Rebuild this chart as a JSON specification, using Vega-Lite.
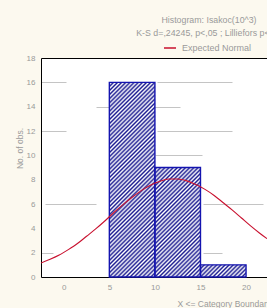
{"$schema":"https://vega.github.io/schema/vega-lite/v6.json","width":226,"height":219,"autosize":"none",
"padding":{"left":41,"top":58,"right":0,"bottom":31},
"background":"#fcf9ef","view":{"stroke":null,"fill":"#ffffff"},
"config":{"font":"Liberation Sans"},
"title":{"text":["Histogram: Isakoc(10^3)","K-S d=,24245, p<,05 ; Lilliefors p<,01"],"fontSize":8.8,"fontWeight":"normal","color":"#9a9a9a","anchor":"middle","dx":55,"offset":3,"lineHeight":13.5},
"encoding":{
"x":{"field":"x","type":"quantitative","title":"X <= Category Boundary","scale":{"domain":[-2.5,22.3],"nice":false,"zero":false},
"axis":{"values":[0,5,10,15,20],"tickCount":20,"ticks":false,"grid":false,"domainColor":"#000","labelFontSize":8,"labelColor":"#999","labelPadding":6,"titleFontSize":8.5,"titleFontWeight":"normal","titleColor":"#9a9a9a","titleX":136,"titleY":26,"titleAlign":"left","titleBaseline":"middle"}},
"y":{"field":"y","type":"quantitative","stack":null,"title":"No. of obs.","scale":{"domain":[0,18],"nice":false},
"axis":{"values":[0,2,4,6,8,10,12,14,16,18],"tickCount":20,"labelOverlap":false,"ticks":false,"domainColor":"#000","labelFontSize":8,"labelColor":"#999","labelPadding":6,"titleFontSize":8.5,"titleFontWeight":"normal","titleColor":"#9a9a9a","titleX":-22,"titleY":90,"titleAngle":270,"titleAlign":"center","titleBaseline":"middle","grid":true,"gridWidth":1,
"gridColor":{"condition":{"test":"datum.value == 18","value":"#000000"},"value":"#c4c4c4"},
"encoding":{"grid":{"strokeDash":{"value":{"expr":"datum.value==16||datum.value==12?[25,91,75,300]:datum.value==14?[0,55,84,300]:datum.value==10?[0,114,47,300]:datum.value==6?[0,4,51,107,60,300]:datum.value==2?[12,150,19,300]:datum.value==18?[1000,1]:[0,300]"}}}}}}},
"layer":[
{"data":{"values":[{"x":5,"x2":10,"y":16},{"x":10,"x2":15,"y":9},{"x":15,"x2":20,"y":1}]},
"transform":[{"fold":["x","x2"],"as":["edge","x"]}],
"mark":{"type":"area","interpolate":"linear","fill":{"gradient":"linear","x1":0,"y1":0,"x2":0.80054,"y2":1.14006,"stops":[
{"offset":0,"color":"#1a1a90"},{"offset":0.00625,"color":"#fff"},{"offset":0.0125,"color":"#1a1a90"},{"offset":0.01875,"color":"#fff"},{"offset":0.025,"color":"#1a1a90"},{"offset":0.03125,"color":"#fff"},{"offset":0.0375,"color":"#1a1a90"},{"offset":0.04375,"color":"#fff"},{"offset":0.05,"color":"#1a1a90"},{"offset":0.05625,"color":"#fff"},{"offset":0.0625,"color":"#1a1a90"},{"offset":0.06875,"color":"#fff"},{"offset":0.075,"color":"#1a1a90"},{"offset":0.08125,"color":"#fff"},{"offset":0.0875,"color":"#1a1a90"},{"offset":0.09375,"color":"#fff"},
{"offset":0.1,"color":"#1a1a90"},{"offset":0.10625,"color":"#fff"},{"offset":0.1125,"color":"#1a1a90"},{"offset":0.11875,"color":"#fff"},{"offset":0.125,"color":"#1a1a90"},{"offset":0.13125,"color":"#fff"},{"offset":0.1375,"color":"#1a1a90"},{"offset":0.14375,"color":"#fff"},{"offset":0.15,"color":"#1a1a90"},{"offset":0.15625,"color":"#fff"},{"offset":0.1625,"color":"#1a1a90"},{"offset":0.16875,"color":"#fff"},{"offset":0.175,"color":"#1a1a90"},{"offset":0.18125,"color":"#fff"},{"offset":0.1875,"color":"#1a1a90"},{"offset":0.19375,"color":"#fff"},
{"offset":0.2,"color":"#1a1a90"},{"offset":0.20625,"color":"#fff"},{"offset":0.2125,"color":"#1a1a90"},{"offset":0.21875,"color":"#fff"},{"offset":0.225,"color":"#1a1a90"},{"offset":0.23125,"color":"#fff"},{"offset":0.2375,"color":"#1a1a90"},{"offset":0.24375,"color":"#fff"},{"offset":0.25,"color":"#1a1a90"},{"offset":0.25625,"color":"#fff"},{"offset":0.2625,"color":"#1a1a90"},{"offset":0.26875,"color":"#fff"},{"offset":0.275,"color":"#1a1a90"},{"offset":0.28125,"color":"#fff"},{"offset":0.2875,"color":"#1a1a90"},{"offset":0.29375,"color":"#fff"},
{"offset":0.3,"color":"#1a1a90"},{"offset":0.30625,"color":"#fff"},{"offset":0.3125,"color":"#1a1a90"},{"offset":0.31875,"color":"#fff"},{"offset":0.325,"color":"#1a1a90"},{"offset":0.33125,"color":"#fff"},{"offset":0.3375,"color":"#1a1a90"},{"offset":0.34375,"color":"#fff"},{"offset":0.35,"color":"#1a1a90"},{"offset":0.35625,"color":"#fff"},{"offset":0.3625,"color":"#1a1a90"},{"offset":0.36875,"color":"#fff"},{"offset":0.375,"color":"#1a1a90"},{"offset":0.38125,"color":"#fff"},{"offset":0.3875,"color":"#1a1a90"},{"offset":0.39375,"color":"#fff"},
{"offset":0.4,"color":"#1a1a90"},{"offset":0.40625,"color":"#fff"},{"offset":0.4125,"color":"#1a1a90"},{"offset":0.41875,"color":"#fff"},{"offset":0.425,"color":"#1a1a90"},{"offset":0.43125,"color":"#fff"},{"offset":0.4375,"color":"#1a1a90"},{"offset":0.44375,"color":"#fff"},{"offset":0.45,"color":"#1a1a90"},{"offset":0.45625,"color":"#fff"},{"offset":0.4625,"color":"#1a1a90"},{"offset":0.46875,"color":"#fff"},{"offset":0.475,"color":"#1a1a90"},{"offset":0.48125,"color":"#fff"},{"offset":0.4875,"color":"#1a1a90"},{"offset":0.49375,"color":"#fff"},
{"offset":0.5,"color":"#1a1a90"},{"offset":0.50625,"color":"#fff"},{"offset":0.5125,"color":"#1a1a90"},{"offset":0.51875,"color":"#fff"},{"offset":0.525,"color":"#1a1a90"},{"offset":0.53125,"color":"#fff"},{"offset":0.5375,"color":"#1a1a90"},{"offset":0.54375,"color":"#fff"},{"offset":0.55,"color":"#1a1a90"},{"offset":0.55625,"color":"#fff"},{"offset":0.5625,"color":"#1a1a90"},{"offset":0.56875,"color":"#fff"},{"offset":0.575,"color":"#1a1a90"},{"offset":0.58125,"color":"#fff"},{"offset":0.5875,"color":"#1a1a90"},{"offset":0.59375,"color":"#fff"},
{"offset":0.6,"color":"#1a1a90"},{"offset":0.60625,"color":"#fff"},{"offset":0.6125,"color":"#1a1a90"},{"offset":0.61875,"color":"#fff"},{"offset":0.625,"color":"#1a1a90"},{"offset":0.63125,"color":"#fff"},{"offset":0.6375,"color":"#1a1a90"},{"offset":0.64375,"color":"#fff"},{"offset":0.65,"color":"#1a1a90"},{"offset":0.65625,"color":"#fff"},{"offset":0.6625,"color":"#1a1a90"},{"offset":0.66875,"color":"#fff"},{"offset":0.675,"color":"#1a1a90"},{"offset":0.68125,"color":"#fff"},{"offset":0.6875,"color":"#1a1a90"},{"offset":0.69375,"color":"#fff"},
{"offset":0.7,"color":"#1a1a90"},{"offset":0.70625,"color":"#fff"},{"offset":0.7125,"color":"#1a1a90"},{"offset":0.71875,"color":"#fff"},{"offset":0.725,"color":"#1a1a90"},{"offset":0.73125,"color":"#fff"},{"offset":0.7375,"color":"#1a1a90"},{"offset":0.74375,"color":"#fff"},{"offset":0.75,"color":"#1a1a90"},{"offset":0.75625,"color":"#fff"},{"offset":0.7625,"color":"#1a1a90"},{"offset":0.76875,"color":"#fff"},{"offset":0.775,"color":"#1a1a90"},{"offset":0.78125,"color":"#fff"},{"offset":0.7875,"color":"#1a1a90"},{"offset":0.79375,"color":"#fff"},
{"offset":0.8,"color":"#1a1a90"},{"offset":0.80625,"color":"#fff"},{"offset":0.8125,"color":"#1a1a90"},{"offset":0.81875,"color":"#fff"},{"offset":0.825,"color":"#1a1a90"},{"offset":0.83125,"color":"#fff"},{"offset":0.8375,"color":"#1a1a90"},{"offset":0.84375,"color":"#fff"},{"offset":0.85,"color":"#1a1a90"},{"offset":0.85625,"color":"#fff"},{"offset":0.8625,"color":"#1a1a90"},{"offset":0.86875,"color":"#fff"},{"offset":0.875,"color":"#1a1a90"},{"offset":0.88125,"color":"#fff"},{"offset":0.8875,"color":"#1a1a90"},{"offset":0.89375,"color":"#fff"},
{"offset":0.9,"color":"#1a1a90"},{"offset":0.90625,"color":"#fff"},{"offset":0.9125,"color":"#1a1a90"},{"offset":0.91875,"color":"#fff"},{"offset":0.925,"color":"#1a1a90"},{"offset":0.93125,"color":"#fff"},{"offset":0.9375,"color":"#1a1a90"},{"offset":0.94375,"color":"#fff"},{"offset":0.95,"color":"#1a1a90"},{"offset":0.95625,"color":"#fff"},{"offset":0.9625,"color":"#1a1a90"},{"offset":0.96875,"color":"#fff"},{"offset":0.975,"color":"#1a1a90"},{"offset":0.98125,"color":"#fff"},{"offset":0.9875,"color":"#1a1a90"},{"offset":0.99375,"color":"#fff"},
{"offset":1,"color":"#1a1a90"}]}},
"encoding":{"order":[{"field":"x","type":"quantitative"},{"field":"y","type":"quantitative","sort":"descending"}]}},
{"data":{"values":[{"x":5,"x2":10,"y":16},{"x":10,"x2":15,"y":9},{"x":15,"x2":20,"y":1}]},
"mark":{"type":"rect","filled":false,"stroke":"#1414b0","strokeWidth":1.4},
"encoding":{"x2":{"field":"x2"},"y2":{"datum":0}}},
{"data":{"values":[{"x":-2.5,"y":1.15},{"x":-1.5,"y":1.45},{"x":-0.5,"y":1.8},{"x":0.5,"y":2.25},{"x":1.5,"y":2.75},{"x":2.5,"y":3.35},{"x":3.5,"y":3.95},{"x":4.5,"y":4.6},{"x":5.5,"y":5.3},{"x":6.5,"y":5.95},{"x":7.5,"y":6.55},{"x":8.5,"y":7.1},{"x":9.5,"y":7.55},{"x":10.5,"y":7.85},{"x":11.5,"y":8.05},{"x":12.5,"y":8.05},{"x":13.5,"y":7.9},{"x":14.5,"y":7.6},{"x":15.5,"y":7.2},{"x":16.5,"y":6.7},{"x":17.5,"y":6.1},{"x":18.5,"y":5.5},{"x":19.5,"y":4.85},{"x":20.5,"y":4.2},{"x":21.5,"y":3.6},{"x":22.3,"y":3.15}]},
"mark":{"type":"line","strokeWidth":1.1,"interpolate":"monotone","clip":true},
"encoding":{"stroke":{"datum":"Expected Normal","type":"nominal","scale":{"range":["#c8102e"]},
"legend":{"orient":"none","legendX":122,"legendY":-17,"title":null,"symbolType":"stroke","symbolSize":144,"symbolStrokeWidth":1.5,"labelFontSize":9,"labelColor":"#9a9a9a","labelOffset":5,"padding":0}}}}
]}
